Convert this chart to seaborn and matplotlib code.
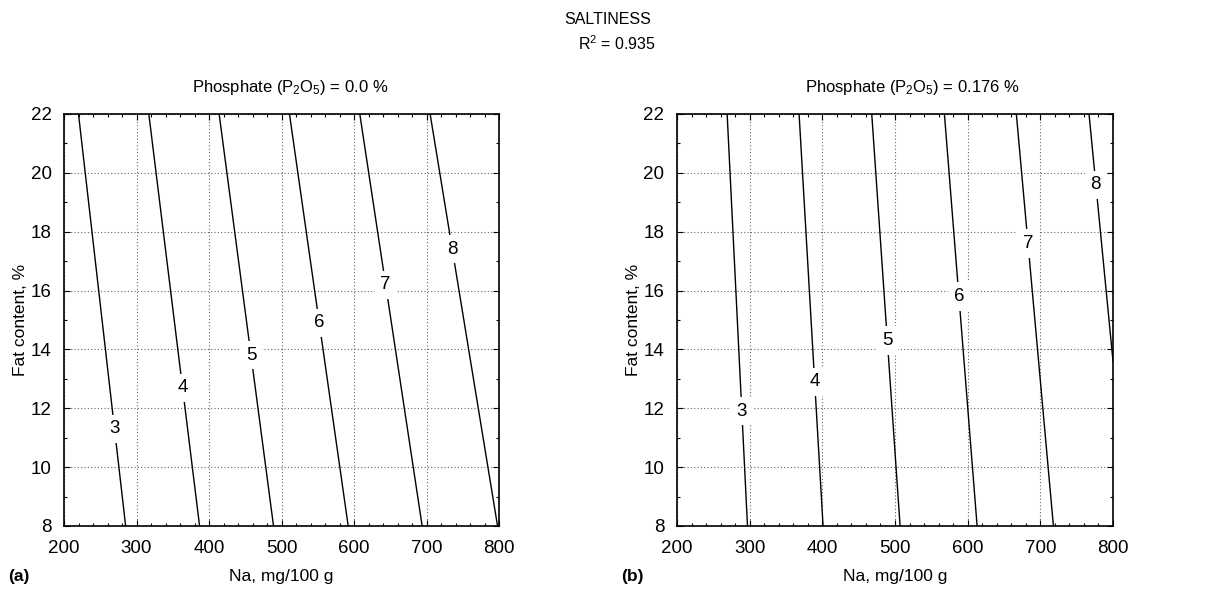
import numpy as np
import pandas as pd
import matplotlib
matplotlib.use("Agg")
import matplotlib.pyplot as plt
from matplotlib.ticker import MultipleLocator
import seaborn as sns

# Saltiness iso-lines: Na (mg/100 g) where each level meets the fat range edges
levels = [3, 4, 5, 6, 7, 8]

# Panel (a): phosphate 0.0 %
a_na_top = [220, 317, 414, 511, 608, 705]     # at fat = 22 %
a_na_bot = [285, 387, 489, 592, 694, 798]     # at fat = 8 %
a_fat_bot = [8, 8, 8, 8, 8, 8]
a_label_fat = [11.3, 12.7, 13.8, 14.9, 16.2, 17.4]

# Panel (b): phosphate 0.176 %
b_na_top = [269, 368, 468, 568, 667, 767]
b_na_bot = [297, 401, 507, 613, 718, 800]
b_fat_bot = [8, 8, 8, 8, 8, 13.6]
b_label_fat = [11.9, 12.9, 14.3, 15.8, 17.6, 19.6]

fat_top = 22
panel_titles = [r"Phosphate (P$_2$O$_5$) = 0.0 %", r"Phosphate (P$_2$O$_5$) = 0.176 %"]
panel_tags = ["(a)", "(b)"]

sns.set_theme(style="white")
plt.rcParams["font.family"] = ["Liberation Sans", "DejaVu Sans"]
plt.rcParams["mathtext.fontset"] = "custom"
plt.rcParams["mathtext.rm"] = "Liberation Sans"
plt.rcParams["mathtext.it"] = "Liberation Sans"
plt.rcParams["text.color"] = "black"
plt.rcParams["axes.labelcolor"] = "black"
plt.rcParams["xtick.color"] = "black"
plt.rcParams["ytick.color"] = "black"

TXT = 12.5


def build_frame(na_top, na_bot, fat_bot):
    rows = []
    for lv, nt, nb, fb in zip(levels, na_top, na_bot, fat_bot):
        rows.append({"level": lv, "Na": nt, "Fat": fat_top})
        rows.append({"level": lv, "Na": nb, "Fat": fb})
    return pd.DataFrame(rows)


fig = plt.figure(figsize=(12.16, 5.89), dpi=100)
ax_a = fig.add_axes([64 / 1216, 1 - 526 / 589, 435 / 1216, 412 / 589])
ax_b = fig.add_axes([677 / 1216, 1 - 526 / 589, 436 / 1216, 412 / 589])

panels = [
    (ax_a, build_frame(a_na_top, a_na_bot, a_fat_bot), a_label_fat, 0.52),
    (ax_b, build_frame(b_na_top, b_na_bot, b_fat_bot), b_label_fat, 0.54),
]

for i, (ax, df, lab_fat, title_x) in enumerate(panels):
    sns.lineplot(data=df, x="Na", y="Fat", units="level", estimator=None,
                 color="black", linewidth=1.0, sort=False, ax=ax, legend=False)
    for lv, lf in zip(levels, lab_fat):
        seg = df[df["level"] == lv]
        fats = seg["Fat"].to_numpy()
        nas = seg["Na"].to_numpy()
        order = np.argsort(fats)
        x = np.interp(lf, fats[order], nas[order])
        ax.text(x, lf, str(lv), ha="center", va="center", fontsize=13.5,
                zorder=5, bbox=dict(boxstyle="square,pad=0.3", fc="white", ec="none"))
    ax.set_xlim(200, 800)
    ax.set_ylim(8, 22)
    ax.xaxis.set_major_locator(MultipleLocator(100))
    ax.xaxis.set_minor_locator(MultipleLocator(20))
    ax.yaxis.set_major_locator(MultipleLocator(2))
    ax.yaxis.set_minor_locator(MultipleLocator(1))
    ax.grid(True, which="major", linestyle=(0, (1, 2)), color="#666666", linewidth=0.8)
    ax.tick_params(which="both", direction="in", top=True, right=True, bottom=True, left=True,
                   color="black", labelsize=13.5)
    ax.tick_params(axis="x", which="major", pad=10)
    ax.tick_params(axis="y", which="major", pad=9)
    ax.tick_params(which="major", length=4, width=0.8)
    ax.tick_params(which="minor", length=2.5, width=0.8)
    for sp in ax.spines.values():
        sp.set_color("black")
        sp.set_linewidth(1.2)
    ax.set_xlabel("Na, mg/100 g", fontsize=TXT, labelpad=9)
    ax.set_ylabel("Fat content, %", fontsize=TXT, labelpad=2)
    ax.text(title_x, 1 + 26 / 412, panel_titles[i], transform=ax.transAxes,
            fontsize=12, ha="center", va="center")

fig.text(8 / 1216, 1 - 576 / 589, panel_tags[0], fontsize=TXT, fontweight="bold", va="center", ha="left")
fig.text(621 / 1216, 1 - 576 / 589, panel_tags[1], fontsize=TXT, fontweight="bold", va="center", ha="left")

fig.text(608 / 1216, 1 - 20 / 589, "SALTINESS", fontsize=11.5, ha="center", va="center")
fig.text(617 / 1216, 1 - 44 / 589, r"R$^2$ = 0.935", fontsize=11.5, ha="center", va="center")

fig.savefig("out.png", dpi=100, facecolor="white")
